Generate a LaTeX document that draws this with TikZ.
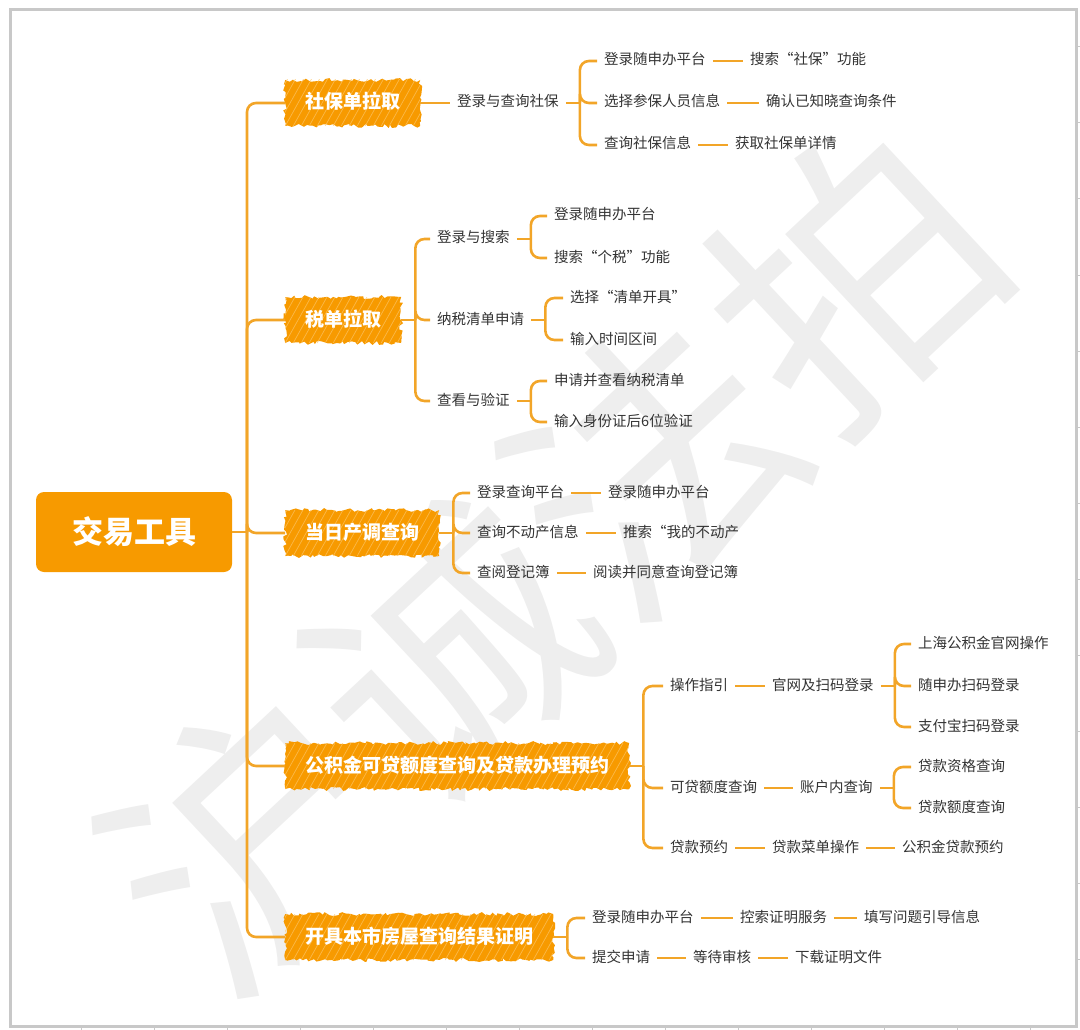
\documentclass[tikz,border=0pt]{standalone}
\usepackage{fontspec}
\setmainfont{Noto Sans CJK SC}
\usepackage{tikz}
\usetikzlibrary{positioning, decorations.pathmorphing, calc}
\definecolor{xmorange}{RGB}{247,154,0}
\definecolor{lineorange}{RGB}{242,165,40}
\definecolor{streakorange}{RGB}{252,198,105}
\definecolor{leafgray}{RGB}{51,51,51}
\definecolor{framegray}{RGB}{200,200,200}
\definecolor{wmgray}{RGB}{238,238,238}

\begin{document}
\begin{tikzpicture}[x=1pt, y=-1pt,
  conn/.style={draw=lineorange, line width=2.6pt, rounded corners=9pt},
  leaf/.style={anchor=west, text=leafgray, font=\fontsize{14.5}{16}\selectfont, inner xsep=7pt, inner ysep=2pt, text height=11pt, text depth=3pt},
  branch/.style={anchor=west, text=white, font=\bfseries\fontsize{19}{21}\selectfont, inner xsep=20pt, minimum height=46pt, text height=15pt, text depth=3pt,
    preaction={fill=xmorange, decorate, decoration={random steps, segment length=3pt, amplitude=2pt}},
    path picture={\foreach \k in {0,...,48} \draw[streakorange, line width=0.7pt, opacity=0.7] ([xshift={\k*8-40}]path picture bounding box.south west) -- ++(28,-50);}},
  rootbox/.style={fill=xmorange, rounded corners=8pt, text=white, font=\bfseries\fontsize{31}{33}\selectfont, minimum width=196pt, minimum height=80pt},
  watermark/.style={rotate=43, text=wmgray, font=\fontsize{275}{275}\selectfont}]
  \pgfmathsetseed{7}
  \useasboundingbox (0,0) rectangle (1080,1030);

  % 水印与边框
  \begin{scope}
    \clip (10,10) rectangle (1076,1026);
    \node[watermark] (wm) at (552,558) {沪诚法拍};
  \end{scope}
  \draw[framegray, line width=3pt] (10,10) rectangle (1076,1026);
  \foreach \x in {81,154,...,1030} \draw[framegray, line width=1pt] (\x,1027) -- (\x,1030);
  \foreach \y in {47,123,...,1000} \draw[framegray, line width=1pt] (1077,\y) -- (1080,\y);

  % 中心
  \node[rootbox] (root) at (134,532) {交易工具};
  \coordinate (hub) at (247,532);

  % 社保单拉取
  \node[branch] (b1) at (285,103) {社保单拉取};
  \node[leaf] (s0) at (450,103) {登录与查询社保};
  \node[leaf] (s1) at (597,61) {登录随申办平台};
  \node[leaf] (s1b) at (743,61) {搜索“社保”功能};
  \node[leaf] (s2) at (597,103) {选择参保人员信息};
  \node[leaf] (s2b) at (759,103) {确认已知晓查询条件};
  \node[leaf] (s3) at (597,145) {查询社保信息};
  \node[leaf] (s3b) at (728,145) {获取社保单详情};

  % 税单拉取
  \node[branch] (b2) at (285,320) {税单拉取};
  \node[leaf] (t1) at (430,239) {登录与搜索};
  \node[leaf] (t2) at (430,320) {纳税清单申请};
  \node[leaf] (t3) at (430,401) {查看与验证};
  \node[leaf] (t1a) at (547,216) {登录随申办平台};
  \node[leaf] (t1b) at (547,258) {搜索“个税”功能};
  \node[leaf] (t2a) at (563,298) {选择“清单开具”};
  \node[leaf] (t2b) at (563,340) {输入时间区间};
  \node[leaf] (t3a) at (547,381) {申请并查看纳税清单};
  \node[leaf] (t3b) at (547,422) {输入身份证后6位验证};

  % 当日产调查询
  \node[branch] (b3) at (285,533) {当日产调查询};
  \node[leaf] (d1) at (470,493) {登录查询平台};
  \node[leaf] (d1b) at (601,493) {登录随申办平台};
  \node[leaf] (d2) at (470,533) {查询不动产信息};
  \node[leaf] (d2b) at (616,533) {推索“我的不动产};
  \node[leaf] (d3) at (470,573) {查阅登记簿};
  \node[leaf] (d3b) at (586,573) {阅读并同意查询登记簿};

  % 公积金
  \node[branch] (b4) at (285,766) {公积金可贷额度查询及贷款办理预约};
  \node[leaf] (g1) at (663,686) {操作指引};
  \node[leaf] (g1b) at (765,686) {官网及扫码登录};
  \node[leaf] (g1c1) at (911,644) {上海公积金官网操作};
  \node[leaf] (g1c2) at (911,686) {随申办扫码登录};
  \node[leaf] (g1c3) at (911,727) {支付宝扫码登录};
  \node[leaf] (g2) at (663,788) {可贷额度查询};
  \node[leaf] (g2b) at (793,788) {账户内查询};
  \node[leaf] (g2c1) at (911,767) {贷款资格查询};
  \node[leaf] (g2c2) at (911,808) {贷款额度查询};
  \node[leaf] (g3) at (663,848) {贷款预约};
  \node[leaf] (g3b) at (765,848) {贷款菜单操作};
  \node[leaf] (g3c) at (895,848) {公积金贷款预约};

  % 房屋查询结果证明
  \node[branch] (b5) at (285,937) {开具本市房屋查询结果证明};
  \node[leaf] (c1) at (585,918) {登录随申办平台};
  \node[leaf] (c1b) at (733,918) {控索证明服务};
  \node[leaf] (c1c) at (857,918) {填写问题引导信息};
  \node[leaf] (c2) at (585,958) {提交申请};
  \node[leaf] (c2b) at (686,958) {等待审核};
  \node[leaf] (c2c) at (788,958) {下载证明文件};

  % 主干
  \draw[conn] (root.east) -- (hub);
  \foreach \b in {b1,b2,b3,b4,b5} \draw[conn] (hub) |- (\b.west);

  % 分叉
  \foreach \p/\kids in {s0/{s1,s2,s3}, b2/{t1,t2,t3}, t1/{t1a,t1b}, t2/{t2a,t2b}, t3/{t3a,t3b},
                        b3/{d1,d2,d3}, b4/{g1,g2,g3}, g1b/{g1c1,g1c2,g1c3}, g2b/{g2c1,g2c2}, b5/{c1,c2}} {
    \path (\p.east) ++(14,0) coordinate (\p k);
    \draw[conn] (\p.east) -- (\p k);
    \foreach \c in \kids \draw[conn] (\p k) |- (\c.west);
  }

  % 连线
  \foreach \a/\z in {b1/s0, s1/s1b, s2/s2b, s3/s3b, d1/d1b, d2/d2b, d3/d3b, g1/g1b, g2/g2b, g3/g3b, g3b/g3c,
                     c1/c1b, c1b/c1c, c2/c2b, c2b/c2c}
    \draw[conn] (\a.east) -- (\z.west);
\end{tikzpicture}
\end{document}
